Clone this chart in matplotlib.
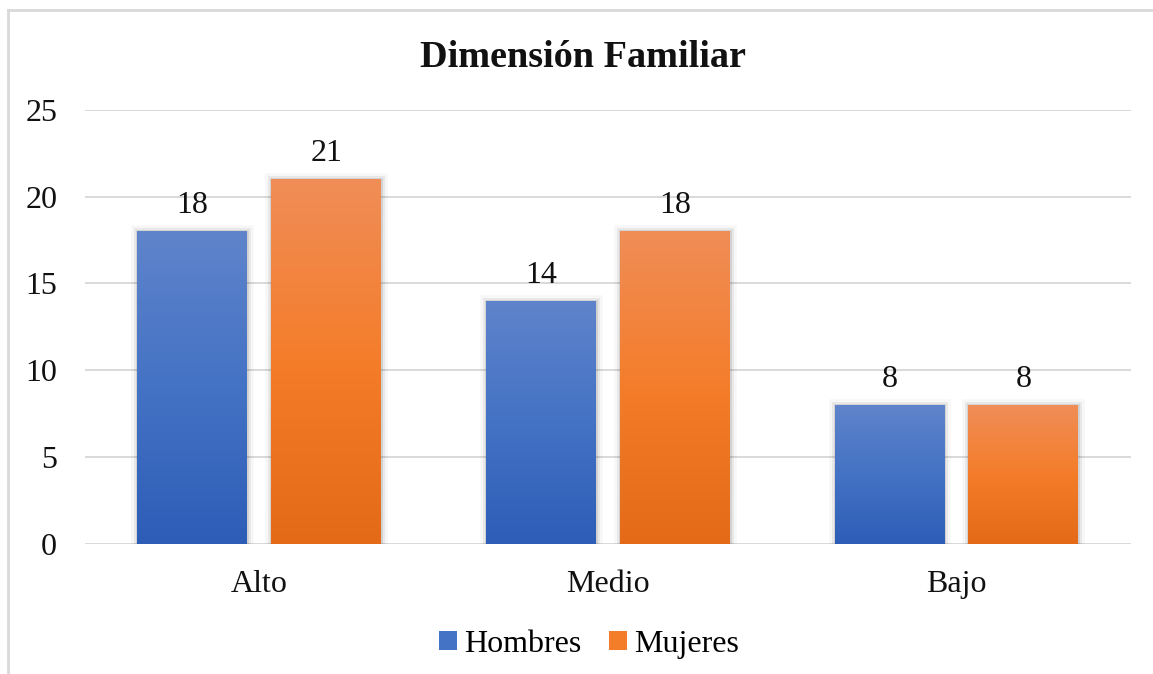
import matplotlib.pyplot as plt
import matplotlib.patheffects as pe
from matplotlib.colors import LinearSegmentedColormap
from matplotlib.lines import Line2D
from matplotlib.patches import Patch
import numpy as np

plt.rcParams['font.family'] = ['Liberation Serif', 'DejaVu Serif']

categories = ['Alto', 'Medio', 'Bajo']
hombres = [18, 14, 8]
mujeres = [21, 18, 8]
series_names = ['Hombres', 'Mujeres']

# top -> bottom gradient stops for each series
blue_grad = ['#5F84CB', '#4472C4', '#2D5DB7']
orange_grad = ['#F08D57', '#F47D2A', '#E46A17']

fig = plt.figure(figsize=(11.53, 6.74), dpi=100)
ax = fig.add_axes([0.0737, 0.193, 0.907, 0.644])

x = np.arange(len(categories))
width = 0.315
offset = 0.192


def gradient_bars(xpos, values, stops):
    bars = ax.bar(xpos, values, width, facecolor='none', edgecolor='none', zorder=2)
    cmap = LinearSegmentedColormap.from_list('g', stops[::-1])
    grad = np.linspace(0, 1, 256).reshape(-1, 1)
    for b in bars:
        # soft shadow around the bar
        b.set_path_effects([
            pe.Stroke(linewidth=9, foreground='#000000', alpha=0.03),
            pe.Stroke(linewidth=5, foreground='#000000', alpha=0.06),
            pe.Stroke(linewidth=2, foreground='#000000', alpha=0.10),
        ])
        x0, y0 = b.get_x(), b.get_y()
        im = ax.imshow(grad, cmap=cmap, aspect='auto', origin='lower',
                       extent=[x0, x0 + b.get_width(), y0, y0 + b.get_height()],
                       zorder=3)
        im.set_clip_path(b)
    for b, v in zip(bars, values):
        ax.annotate(str(v), (b.get_x() + b.get_width() / 2, v),
                    xytext=(0, 8), textcoords='offset points',
                    ha='center', va='bottom', fontsize=23, color='#111111')
    return bars


gradient_bars(x - offset, hombres, blue_grad)
gradient_bars(x + offset, mujeres, orange_grad)

ax.set_xlim(-0.5, len(categories) - 0.5)
ax.set_ylim(0, 25)
ax.set_yticks(range(0, 26, 5))
ax.set_xticks(x)
ax.set_xticklabels(categories)
ax.tick_params(axis='both', length=0, labelsize=23, colors='#111111')
ax.tick_params(axis='y', pad=20)
ax.tick_params(axis='x', pad=19)
ax.grid(axis='y', color='#D9D9D9', linewidth=1.4, zorder=0)
ax.set_axisbelow(True)
for s in ax.spines.values():
    s.set_visible(False)

fig.text(0.506, 0.914, 'Dimensión Familiar', ha='center', va='center',
         fontsize=27.5, fontweight='bold', color='#111111')

handles = [Patch(facecolor=blue_grad[1]), Patch(facecolor=orange_grad[1])]
fig.legend(handles, series_names, loc='center', bbox_to_anchor=(0.511, 0.044),
           ncol=2, frameon=False, fontsize=23, handlelength=0.55,
           handleheight=0.55, handletextpad=0.25, columnspacing=0.85)

# outer chart frame (left and top edges)
fig.add_artist(Line2D([0.0069, 0.0069], [0, 0.985], color='#D9D9D9', lw=2))
fig.add_artist(Line2D([0.0069, 1.0], [0.985, 0.985], color='#D9D9D9', lw=2))

fig.savefig('out.png', dpi=100)
